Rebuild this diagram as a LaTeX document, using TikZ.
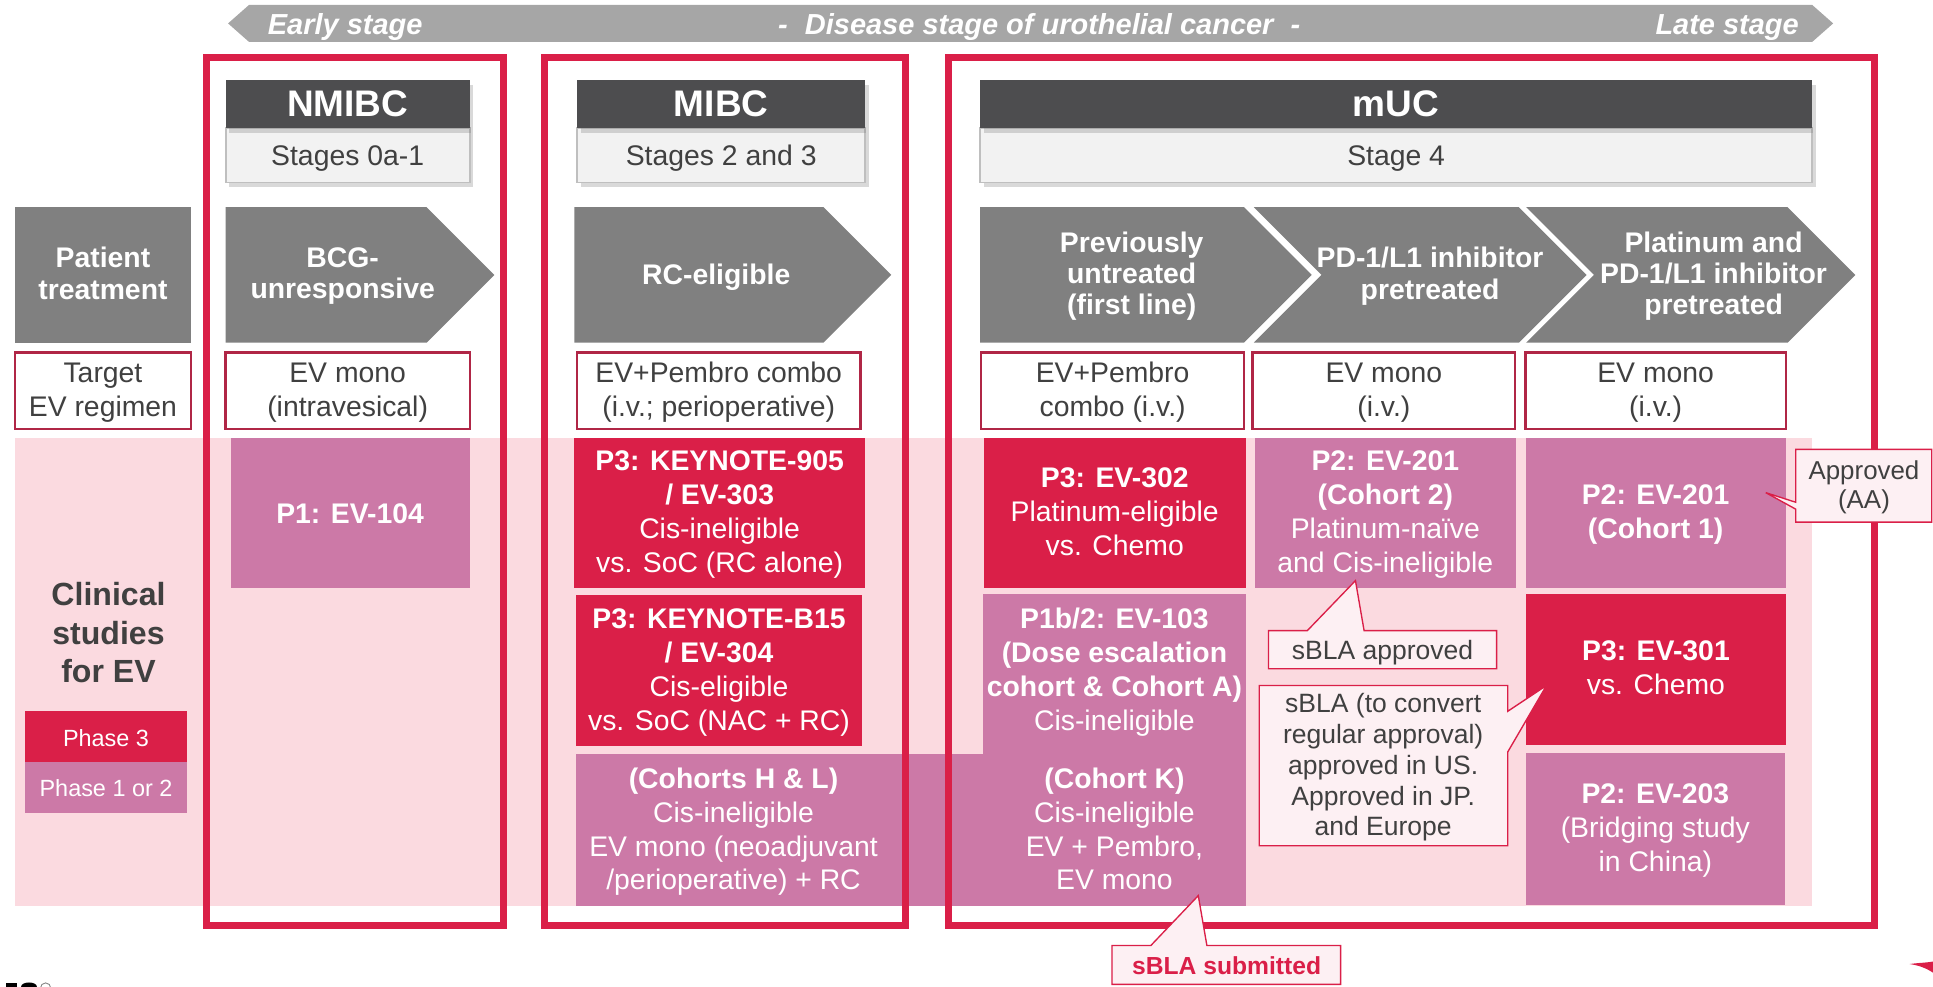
\documentclass[tikz,border=0pt]{standalone}
\usepackage{fontspec}
\setmainfont{Liberation Sans}
\usetikzlibrary{shadows}
\definecolor{crim}{RGB}{218,31,72}
\definecolor{mauve}{RGB}{204,121,167}
\definecolor{pinkbg}{RGB}{251,218,224}
\definecolor{hdrgray}{RGB}{77,77,79}
\definecolor{chevgray}{RGB}{128,128,128}
\definecolor{bangray}{RGB}{166,166,166}
\definecolor{tgtred}{RGB}{176,38,70}
\definecolor{callfill}{RGB}{253,240,243}
\definecolor{txtgray}{RGB}{64,64,64}
\definecolor{stgfill}{RGB}{242,242,242}
\definecolor{stgline}{RGB}{191,191,191}
\begin{document}
\begin{tikzpicture}[x=1pt,y=-1pt,
  every node/.style={inner sep=0pt,outer sep=0pt},
  sz/.style 2 args={minimum width=#1pt,minimum height=#2pt},
  tx/.style={align=center,execute at begin node=\strut,execute at end node=\strut,yshift=-3pt},
  reg/.style={tx,font=\fontsize{23}{27.5}\selectfont},
  wreg/.style={reg,text=white},
  dreg/.style={reg,text=txtgray},
  arr/.style={tx,text=white,font=\bfseries\fontsize{23}{25.5}\selectfont},
  ban/.style={tx,text=white,font=\bfseries\itshape\fontsize{23.5}{28}\selectfont},
  p3box/.style={fill=crim},
  p12box/.style={fill=mauve},
  hdr/.style={fill=hdrgray,drop shadow={shadow xshift=3pt,shadow yshift=-4pt,opacity=0.3}},
  stg/.style={fill=stgfill,draw=stgline,line width=1.5pt,drop shadow={shadow xshift=3pt,shadow yshift=-4pt,opacity=0.3}},
  tgt/.style={fill=white,draw=tgtred,line width=1.8pt},
  chev/.style={fill=chevgray},
  frm/.style={draw=crim,line width=6pt},
  call/.style={fill=callfill,draw=crim,line width=1.1pt,line join=miter},
  calltxt/.style={tx,text=txtgray,font=\fontsize{21.5}{25}\selectfont},
]
\useasboundingbox (0,0) rectangle (1568,800);

% ---- banner
\fill[bangray] (185,19) -- (202,4) -- (1470,4) -- (1487,19) -- (1470,34) -- (202,34) -- cycle;
\node[ban] (early) at (280,19) {Early stage};
\node[ban] (dis) at (843,19) {-\hspace{14pt}Disease stage of urothelial cancer\hspace{14pt}-};
\node[ban] (late) at (1401,19) {Late stage};

% ---- stage headers
\node[stg,sz={198}{44}] (s1) at (282,126) {};
\node[hdr,sz={198}{39}] (h1) at (282,84.5) {};
\node[stg,sz={234}{44}] (s2) at (585,126) {};
\node[hdr,sz={234}{39}] (h2) at (585,84.5) {};
\node[stg,sz={675}{44}] (s3) at (1132.5,126) {};
\node[hdr,sz={675}{39}] (h3) at (1132.5,84.5) {};
\node[tx,text=white,font=\bfseries\fontsize{30}{34}\selectfont] (h1t) at (h1) {NMIBC};
\node[tx,text=white,font=\bfseries\fontsize{30}{34}\selectfont] (h2t) at (h2) {MIBC};
\node[tx,text=white,font=\bfseries\fontsize{30}{34}\selectfont] (h3t) at (h3) {mUC};
\node[dreg] (s1t) at (s1) {Stages 0a-1};
\node[dreg] (s2t) at (s2) {Stages 2 and 3};
\node[dreg] (s3t) at (s3) {Stage 4};

% ---- patient treatment row
\node[chev,sz={143}{110}] (pt) at (83.5,223) {};
\node[arr] (ptt) at (83.5,222.5) {Patient\\treatment};
\fill[chev] (183,168) -- (346,168) -- (401,223) -- (346,278) -- (183,278) -- cycle;
\node[arr] (bcg) at (278,222.5) {BCG-\\unresponsive};
\fill[chev] (466,168) -- (668,168) -- (723,223) -- (668,278) -- (466,278) -- cycle;
\node[arr] (rce) at (581,222.5) {RC-eligible};
\fill[chev] (795,168) -- (1009,168) -- (1064,223) -- (1009,278) -- (795,278) -- cycle;
\node[arr] (c1) at (918,222.5) {Previously\\untreated\\(first line)};
\fill[chev] (1017,168) -- (1232,168) -- (1287,223) -- (1232,278) -- (1017,278) -- (1072,223) -- cycle;
\node[arr] (c2) at (1160,222.5) {PD-1/L1 inhibitor\\pretreated};
\fill[chev] (1238,168) -- (1450,168) -- (1505,223) -- (1450,278) -- (1238,278) -- (1293,223) -- cycle;
\node[arr] (c3) at (1390,222.5) {Platinum and\\PD-1/L1 inhibitor\\pretreated};

% ---- target regimen row
\node[tgt,sz={143}{62}] (t0) at (83.5,317) {};
\node[tgt,sz={198}{62}] (t1) at (282,317) {};
\node[tgt,sz={230}{62}] (t2) at (583,317) {};
\node[tgt,sz={213}{62}] (t3) at (902.5,317) {};
\node[tgt,sz={213}{62}] (t4) at (1122.5,317) {};
\node[tgt,sz={211}{62}] (t5) at (1343,317) {};
\node[dreg] (t0t) at (t0) {Target\\EV regimen};
\node[dreg] (t1t) at (t1) {EV mono\\(intravesical)};
\node[dreg] (t2t) at (t2) {EV+Pembro combo\\(i.v.; perioperative)};
\node[dreg] (t3t) at (t3) {EV+Pembro\\combo (i.v.)};
\node[dreg] (t4t) at (t4) {EV mono\\(i.v.)};
\node[dreg] (t5t) at (t5) {EV mono\\(i.v.)};

% ---- clinical studies area
\fill[pinkbg] (12,355) rectangle (1470,735);
\node[tx,text=txtgray,font=\bfseries\fontsize{26}{31}\selectfont] (clin) at (88,514.7) {Clinical\\studies\\for EV};
\node[p3box,sz={132}{42}] (lg3) at (86,597.8) {};
\node[p12box,sz={132}{41}] (lg12) at (86,639) {};
\node[tx,text=white,font=\fontsize{19}{22}\selectfont] (lg3t) at (lg3) {Phase 3};
\node[tx,text=white,font=\fontsize{19}{22}\selectfont] (lg12t) at (lg12) {Phase 1 or 2};

\node[p12box,sz={194}{122}] (ev104) at (284,416) {};
\node[wreg] (ev104t) at (ev104) {\textbf{P1: EV-104}};

\node[p3box,sz={235.5}{122}] (k905) at (583.75,416) {};
\node[wreg] (k905t) at (k905) {\textbf{P3: KEYNOTE-905}\\\textbf{/ EV-303}\\Cis-ineligible\\vs. SoC (RC alone)};
\node[p3box,sz={232.5}{122}] (kb15) at (583.25,544) {};
\node[wreg] (kb15t) at (kb15) {\textbf{P3: KEYNOTE-B15}\\\textbf{/ EV-304}\\Cis-eligible\\vs. SoC (NAC + RC)};

\node[p12box,sz={331}{123}] (hl) at (632.5,673.5) {};
\node[p12box,sz={214}{253}] (ev103) at (904,608.5) {};
\node[wreg] (hlt) at (595,673.4) {\textbf{(Cohorts H \& L)}\\Cis-ineligible\\EV mono (neoadjuvant\\/perioperative) + RC};
\node[wreg] (ev103t) at (904,544) {\textbf{P1b/2: EV-103}\\\textbf{(Dose escalation}\\\textbf{cohort \& Cohort A)}\\Cis-ineligible};
\node[wreg] (ckt) at (904,673.4) {\textbf{(Cohort K)}\\Cis-ineligible\\EV + Pembro,\\EV mono};

\node[p3box,sz={212.5}{122}] (ev302) at (904.25,416) {};
\node[wreg] (ev302t) at (ev302) {\textbf{P3: EV-302}\\Platinum-eligible\\vs. Chemo};
\node[p12box,sz={211.5}{122}] (ev201b) at (1123.75,416) {};
\node[wreg] (ev201bt) at (ev201b) {\textbf{P2: EV-201}\\\textbf{(Cohort 2)}\\Platinum-naïve\\and Cis-ineligible};
\node[p12box,sz={211}{122}] (ev201a) at (1343,416) {};
\node[wreg] (ev201at) at (ev201a) {\textbf{P2: EV-201}\\\textbf{(Cohort 1)}};
\node[p3box,sz={210.5}{122}] (ev301) at (1343.25,543) {};
\node[wreg] (ev301t) at (ev301) {\textbf{P3: EV-301}\\vs. Chemo};
\node[p12box,sz={210.5}{123}] (ev203) at (1342.75,672.5) {};
\node[wreg] (ev203t) at (ev203) {\textbf{P2: EV-203}\\(Bridging study\\in China)};

% ---- red stage frames
\node[frm,sz={241}{704}] (fr1) at (288,398.5) {};
\node[frm,sz={293}{704}] (fr2) at (588,398.5) {};
\node[frm,sz={751}{704}] (fr3) at (1145,398.5) {};

% ---- callouts
\draw[call] (1456.6,364.5) -- (1567,364.5) -- (1567,423.5) -- (1456.6,423.5) -- (1456.6,413) -- (1432.3,399.6) -- (1456.6,407.4) -- cycle;
\node[tx,text=txtgray,font=\fontsize{21}{24}\selectfont] (appr) at (1512,393.7) {Approved\\(AA)};

\draw[call] (1029,511.5) -- (1060.5,511.5) -- (1099.5,471) -- (1106.5,511.5) -- (1214,511.5) -- (1214,542.5) -- (1029,542.5) -- cycle;
\node[calltxt] (sapp) at (1121.5,527) {sBLA approved};

\draw[call] (1021.5,556) -- (1223,556) -- (1223,577) -- (1254.5,556) -- (1223,610) -- (1223,686) -- (1021.5,686) -- cycle;
\node[calltxt] (sconv) at (1122,621) {sBLA (to convert\\regular approval)\\approved in US.\\Approved in JP.\\and Europe};

\draw[call] (902,767) -- (933.5,767) -- (972,726.5) -- (979,767) -- (1087.5,767) -- (1087.5,798.5) -- (902,798.5) -- cycle;
\node[tx,text=crim,font=\bfseries\fontsize{20}{24}\selectfont] (ssub) at (995,783) {sBLA submitted};

% ---- cropped logo fragments
\fill[black] (5,797) rectangle (14,801);
\fill[black] (17,801) .. controls (17,795.5) and (30,795.5) .. (30,801) -- cycle;
\draw[gray,line width=0.7pt] (37,801.5) circle (4.2);
\fill[crim] (1549,782) .. controls (1556,781) and (1562,781) .. (1568,780) -- (1568,789) .. controls (1562,785) and (1556,783) .. (1549,782) -- cycle;
\end{tikzpicture}
\end{document}
